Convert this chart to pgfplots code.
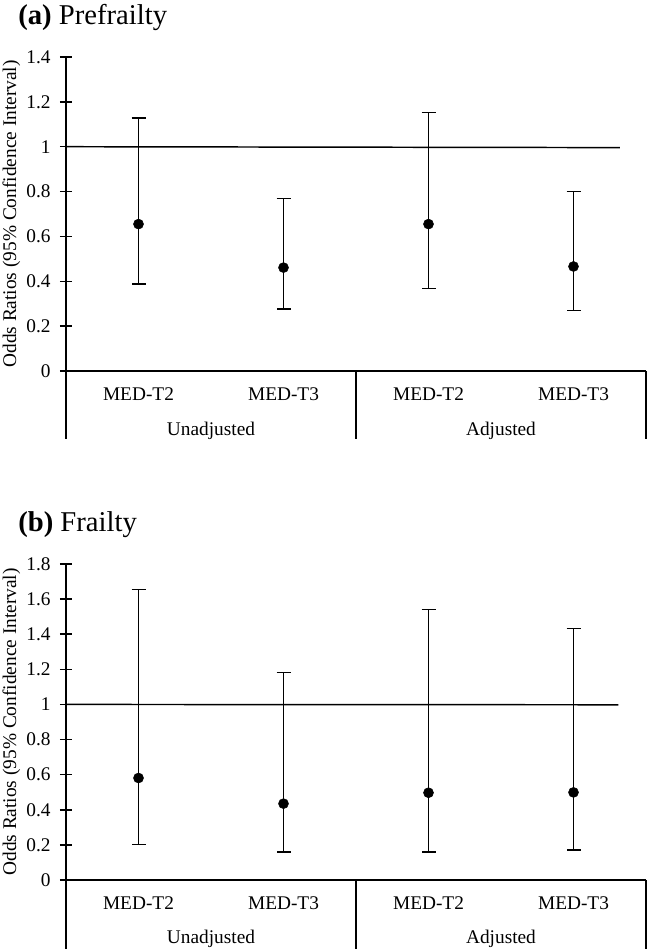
\documentclass[border=0pt]{standalone}
\usepackage{pgfplots}
\pgfplotsset{compat=1.18}
\usepackage{pgfplotstable}
\usepackage{fontspec}
\setmainfont{Liberation Serif}

\pgfplotstableread{
x y lo hi
0 0.655 0.387 1.128
1 0.461 0.276 0.770
2 0.655 0.368 1.152
3 0.466 0.269 0.800
}\prefrail
\pgfplotstableread{
x y lo hi
0 0.581 0.203 1.656
1 0.435 0.159 1.183
2 0.497 0.159 1.542
3 0.499 0.171 1.432
}\frail

\tikzset{grp/.style={anchor=base, font=\fontsize{14.5}{17}\selectfont}}

\pgfplotsset{
  orstyle/.style={
    scale only axis,
    width=435pt,
    xmin=-0.5, xmax=3.5,
    ymin=0,
    axis x line*=bottom,
    axis y line*=left,
    axis line style={-, line width=1.1pt},
    xtick={0,1,2,3},
    xticklabels={MED-T2,MED-T3,MED-T2,MED-T3},
    x tick style={draw=none},
    xticklabel style={anchor=base, yshift=-17.5pt},
    y tick style={line width=1.1pt, black},
    major tick length=9pt,
    tick align=center,
    ticklabel style={font=\fontsize{14.5}{17}\selectfont},
    /pgf/number format/assume math mode=true,
    yticklabel style={anchor=east, xshift=-3.5pt},
    clip=false,
  },
  ebar/.style={
    only marks, mark=*, mark size=3.75pt, black,
    error bars/.cd, y dir=both, y explicit,
    error bar style={line width=1.1pt, black},
    error mark options={rotate=90, line width=1.1pt, mark size=5.25pt, black},
  },
}

\begin{document}
\begin{tikzpicture}
\path[use as bounding box] (0,0) rectangle (484.5pt,711.75pt);

% ---------- (a) Prefrailty ----------
\node[anchor=base west, inner sep=0pt, font=\fontsize{21.5}{24}\selectfont] at (13.5pt,693pt) {\textbf{(a)} Prefrailty};
\node[rotate=90, anchor=center, inner sep=0pt, font=\fontsize{14.5}{17}\selectfont] at (8.5pt,551.25pt) {Odds Ratios (95\% Confidence Interval)};
\begin{axis}[orstyle, at={(49.5pt,433.5pt)}, anchor=south west, height=235.5pt,
  ymax=1.4, ytick={0,0.2,...,1.4},
  yticklabels={0,0.2,0.4,0.6,0.8,1,1.2,1.4}]
\addplot[black, line width=1.1pt] coordinates {(-0.5,1) (3.32,0.996)};
\addplot[ebar] table[x=x, y=y, y error plus expr=\thisrow{hi}-\thisrow{y}, y error minus expr=\thisrow{y}-\thisrow{lo}] {\prefrail};
\draw[line width=1.1pt] (axis cs:-0.5,0) -- ++(0pt,-51pt);
\draw[line width=1.1pt] (axis cs:1.5,0) -- ++(0pt,-51pt);
\draw[line width=1.1pt] (axis cs:3.5,0) -- ++(0pt,-51pt);
\node[grp] at ([yshift=-48.5pt]axis cs:0.5,0) {Unadjusted};
\node[grp] at ([yshift=-48.5pt]axis cs:2.5,0) {Adjusted};
\end{axis}

% ---------- (b) Frailty ----------
\node[anchor=base west, inner sep=0pt, font=\fontsize{21.5}{24}\selectfont] at (13.5pt,312.75pt) {\textbf{(b)} Frailty};
\node[rotate=90, anchor=center, inner sep=0pt, font=\fontsize{14.5}{17}\selectfont] at (8.5pt,170.25pt) {Odds Ratios (95\% Confidence Interval)};
\begin{axis}[orstyle, at={(49.5pt,51.75pt)}, anchor=south west, height=237pt,
  ymax=1.8, ytick={0,0.2,...,1.8},
  yticklabels={0,0.2,0.4,0.6,0.8,1,1.2,1.4,1.6,1.8}]
\addplot[black, line width=1.1pt] coordinates {(-0.5,1) (3.31,0.998)};
\addplot[ebar] table[x=x, y=y, y error plus expr=\thisrow{hi}-\thisrow{y}, y error minus expr=\thisrow{y}-\thisrow{lo}] {\frail};
\draw[line width=1.1pt] (axis cs:-0.5,0) -- ++(0pt,-52pt);
\draw[line width=1.1pt] (axis cs:1.5,0) -- ++(0pt,-52pt);
\draw[line width=1.1pt] (axis cs:3.5,0) -- ++(0pt,-52pt);
\node[grp] at ([yshift=-47.5pt]axis cs:0.5,0) {Unadjusted};
\node[grp] at ([yshift=-47.5pt]axis cs:2.5,0) {Adjusted};
\end{axis}
\end{tikzpicture}
\end{document}
